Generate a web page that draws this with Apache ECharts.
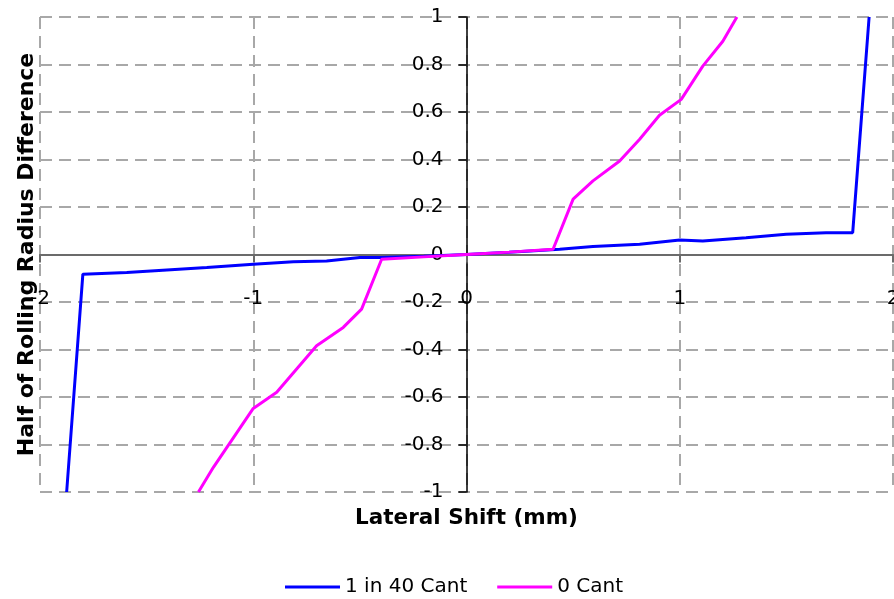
<!DOCTYPE html>
<html>
<head>
<meta charset="utf-8">
<script src="https://cdn.jsdelivr.net/npm/echarts@6/dist/echarts.min.js"></script>
<style>
  html, body { margin: 0; padding: 0; background: #ffffff; }
  #chart { width: 894px; height: 599px; }
</style>
</head>
<body>
<div id="chart"></div>
<script>
// Lateral shift (mm) and half of rolling radius difference for each cant case
const cantSeriesNames = ['1 in 40 Cant', '0 Cant'];

const cant40Shift = [-1.875, -1.799, -1.593, -1.405, -1.218, -1.0, -0.812, -0.656, -0.5, -0.406, -0.2, 0, 0.2, 0.437, 0.593, 0.812, 1.0, 1.108, 1.311, 1.499, 1.686, 1.811, 1.888];
const cant40Diff  = [-1.0, -0.083, -0.076, -0.065, -0.055, -0.041, -0.031, -0.027, -0.013, -0.013, -0.007, 0, 0.009, 0.022, 0.034, 0.043, 0.061, 0.057, 0.071, 0.085, 0.092, 0.092, 1.0];

const cant0Shift = [-1.257, -1.187, -1.0, -0.890, -0.703, -0.578, -0.492, -0.398, -0.2, 0, 0.2, 0.406, 0.5, 0.593, 0.718, 0.812, 0.905, 1.007, 1.108, 1.202, 1.268];
const cant0Diff  = [-1.0, -0.896, -0.648, -0.580, -0.384, -0.307, -0.230, -0.020, -0.010, 0, 0.010, 0.022, 0.233, 0.310, 0.394, 0.485, 0.586, 0.653, 0.793, 0.898, 1.0];

const xTicks = { min: -2, max: 2, step: 1 };
const yTicks = { min: -1, max: 1, step: 0.2 };

const pairs = (xs, ys) => xs.map((x, i) => [x, ys[i]]);

const gridLine = { show: true, lineStyle: { color: '#a8a8a8', width: 2, type: [12, 7] } };
const font = 'DejaVu Sans';

// Plot box in pixels; both axes are drawn through the origin of the data
const box = { left: 40, right: 1, top: 17, bottom: 107, width: 894, height: 599 };
const plotW = box.width - box.left - box.right;
const plotH = box.height - box.top - box.bottom;
const xZeroFromLeft = plotW * (0 - xTicks.min) / (xTicks.max - xTicks.min);
const yZeroFromBottom = plotH * (0 - yTicks.min) / (yTicks.max - yTicks.min);

const chart = echarts.init(document.getElementById('chart'));
chart.setOption({
  backgroundColor: '#ffffff',
  animation: false,
  grid: { left: box.left, right: box.right, top: box.top, bottom: box.bottom, containLabel: false, outerBoundsMode: 'none' },
  xAxis: {
    type: 'value',
    position: 'bottom',
    offset: -yZeroFromBottom,
    min: xTicks.min, max: xTicks.max, interval: xTicks.step,
    name: 'Lateral Shift (mm)',
    nameLocation: 'middle',
    nameGap: 253,
    nameMoveOverlap: false,
    nameTextStyle: { fontFamily: font, fontWeight: 'bold', fontSize: 21.5, color: '#000' },
    axisLine: { onZero: false, lineStyle: { color: '#6b6b6b', width: 2 } },
    axisTick: { show: true, length: 8, lineStyle: { color: '#6b6b6b', width: 2 } },
    axisLabel: { margin: 34, fontFamily: font, fontSize: 20, color: '#000', hideOverlap: false },
    splitLine: gridLine
  },
  yAxis: {
    type: 'value',
    position: 'left',
    offset: -xZeroFromLeft,
    min: yTicks.min, max: yTicks.max, interval: yTicks.step,
    name: 'Half of Rolling Radius Difference',
    nameLocation: 'middle',
    nameGap: 428,
    nameRotate: 90,
    nameMoveOverlap: false,
    nameTextStyle: { fontFamily: font, fontWeight: 'bold', fontSize: 22, color: '#000' },
    axisLine: { onZero: false, lineStyle: { color: '#000', width: 1.5 } },
    axisTick: { show: true, length: 8, lineStyle: { color: '#000', width: 1.5 } },
    axisLabel: {
      margin: 23, fontFamily: font, fontSize: 20, color: '#000', hideOverlap: false,
      formatter: v => String(+v.toFixed(1))
    },
    splitLine: gridLine
  },
  legend: {
    bottom: 2,
    left: 285,
    padding: 0,
    icon: 'rect',
    itemWidth: 55,
    itemHeight: 3,
    itemGap: 30,
    textStyle: { fontFamily: font, fontSize: 20, color: '#000' },
    data: cantSeriesNames
  },
  series: [
    {
      name: cantSeriesNames[0],
      type: 'line',
      symbol: 'none',
      data: pairs(cant40Shift, cant40Diff),
      lineStyle: { color: '#0000ff', width: 3 },
      itemStyle: { color: '#0000ff' }
    },
    {
      name: cantSeriesNames[1],
      type: 'line',
      symbol: 'none',
      data: pairs(cant0Shift, cant0Diff),
      lineStyle: { color: '#ff00ff', width: 3 },
      itemStyle: { color: '#ff00ff' }
    }
  ]
});
</script>
</body>
</html>
